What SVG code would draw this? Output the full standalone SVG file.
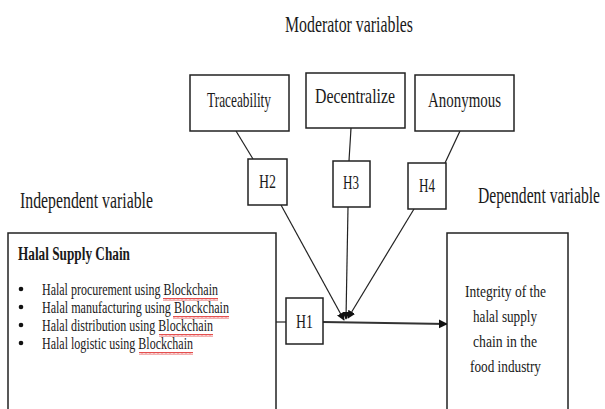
<svg xmlns="http://www.w3.org/2000/svg" width="605" height="409" viewBox="0 0 605 409">
<style>
text{font-family:"Liberation Serif","Times New Roman","DejaVu Serif",serif;fill:#1a1a1a}
.box{fill:#fff;stroke:#222;stroke-width:1.5}
.hd{font-size:23px}
.lbl{font-size:22px}
.h{font-size:19px}
.body{font-size:16.5px}
.con{stroke:#222;stroke-width:1.2;fill:none}
.main{stroke:#333;stroke-width:2.2;fill:none}
</style>
<defs>
<marker id="arr" viewBox="0 0 10 10" refX="9" refY="5" markerWidth="8" markerHeight="8" markerUnits="userSpaceOnUse" orient="auto">
<path d="M0,0 L10,5 L0,10 z" fill="#111"/>
</marker>
<marker id="arrM" viewBox="0 0 10 10" refX="9" refY="5" markerWidth="9" markerHeight="11" markerUnits="userSpaceOnUse" orient="auto">
<path d="M0,0 L10,5 L0,10 z" fill="#111"/>
</marker>
<pattern id="wavy" width="4" height="3" patternUnits="userSpaceOnUse">
<path d="M0,2.5 L1,0.5 L2,2.5 L3,0.5 L4,2.5" stroke="#d22" stroke-width="0.8" fill="none"/>
</pattern>
</defs>
<rect width="605" height="409" fill="#fff"/>

<text class="hd" x="285" y="32" textLength="128" lengthAdjust="spacingAndGlyphs" style="font-size:24px">Moderator variables</text>
<text class="hd" x="20" y="208" textLength="133" lengthAdjust="spacingAndGlyphs">Independent variable</text>
<text class="hd" x="478" y="203" textLength="122" lengthAdjust="spacingAndGlyphs">Dependent variable</text>

<g id="connectors">
<line class="con" x1="236" y1="131" x2="253" y2="159"/>
<line class="con" x1="281" y1="205" x2="344" y2="320" marker-end="url(#arr)"/>
<line class="con" x1="351" y1="128" x2="349" y2="161"/>
<line class="con" x1="348" y1="207" x2="346" y2="319" marker-end="url(#arr)"/>
<line class="con" x1="460" y1="131" x2="445" y2="163"/>
<line class="con" x1="414" y1="209" x2="348" y2="318" marker-end="url(#arr)"/>
<line class="con" x1="276" y1="322" x2="286" y2="322"/>
<line class="main" x1="323" y1="322" x2="447" y2="324" marker-end="url(#arrM)"/>
</g>

<g id="traceability">
<rect class="box" x="190" y="75" width="99" height="56"/>
<text class="lbl" x="207" y="107" textLength="64" lengthAdjust="spacingAndGlyphs">Traceability</text>
</g>
<g id="decentralize">
<rect class="box" x="306" y="73" width="99" height="55"/>
<text class="lbl" x="315" y="103" textLength="80" lengthAdjust="spacingAndGlyphs">Decentralize</text>
</g>
<g id="anonymous">
<rect class="box" x="415" y="75" width="99" height="56"/>
<text class="lbl" x="428" y="107" textLength="73" lengthAdjust="spacingAndGlyphs">Anonymous</text>
</g>

<g id="h2">
<rect class="box" x="248" y="159" width="39" height="46"/>
<text class="h" x="259" y="188" textLength="17" lengthAdjust="spacingAndGlyphs">H2</text>
</g>
<g id="h3">
<rect class="box" x="333" y="161" width="37" height="46"/>
<text class="h" x="343" y="189" textLength="16" lengthAdjust="spacingAndGlyphs">H3</text>
</g>
<g id="h4">
<rect class="box" x="408" y="163" width="38" height="46"/>
<text class="h" x="419" y="192" textLength="16" lengthAdjust="spacingAndGlyphs">H4</text>
</g>
<g id="h1">
<rect class="box" x="286" y="298" width="37" height="46"/>
<text class="h" x="296" y="328" textLength="17" lengthAdjust="spacingAndGlyphs">H1</text>
</g>

<g id="halal-supply-chain">
<rect class="box" x="8" y="233" width="268" height="190"/>
<text x="18" y="260" textLength="112" lengthAdjust="spacingAndGlyphs" style="font-size:18px;font-weight:bold">Halal Supply Chain</text>
<circle cx="21" cy="289" r="2.3" fill="#111"/>
<circle cx="21" cy="307" r="2.3" fill="#111"/>
<circle cx="21" cy="325" r="2.3" fill="#111"/>
<circle cx="21" cy="343" r="2.3" fill="#111"/>
<text class="body" x="42" y="295" textLength="176" lengthAdjust="spacingAndGlyphs">Halal procurement using Blockchain</text>
<text class="body" x="42" y="313" textLength="187" lengthAdjust="spacingAndGlyphs">Halal manufacturing using Blockchain</text>
<text class="body" x="42" y="331" textLength="171" lengthAdjust="spacingAndGlyphs">Halal distribution using Blockchain</text>
<text class="body" x="42" y="349" textLength="151" lengthAdjust="spacingAndGlyphs">Halal logistic using Blockchain</text>
<rect x="163" y="298" width="55" height="3" fill="url(#wavy)"/>
<rect x="173" y="316" width="56" height="3" fill="url(#wavy)"/>
<rect x="159" y="334" width="54" height="3" fill="url(#wavy)"/>
<rect x="139" y="352" width="54" height="3" fill="url(#wavy)"/>
</g>

<g id="integrity">
<rect class="box" x="447" y="233" width="121" height="190"/>
<text class="body" x="465" y="297" textLength="81" lengthAdjust="spacingAndGlyphs">Integrity of the</text>
<text class="body" x="473" y="322" textLength="64" lengthAdjust="spacingAndGlyphs">halal supply</text>
<text class="body" x="473" y="347" textLength="64" lengthAdjust="spacingAndGlyphs">chain in the</text>
<text class="body" x="470" y="372" textLength="71" lengthAdjust="spacingAndGlyphs">food industry</text>
</g>
</svg>
